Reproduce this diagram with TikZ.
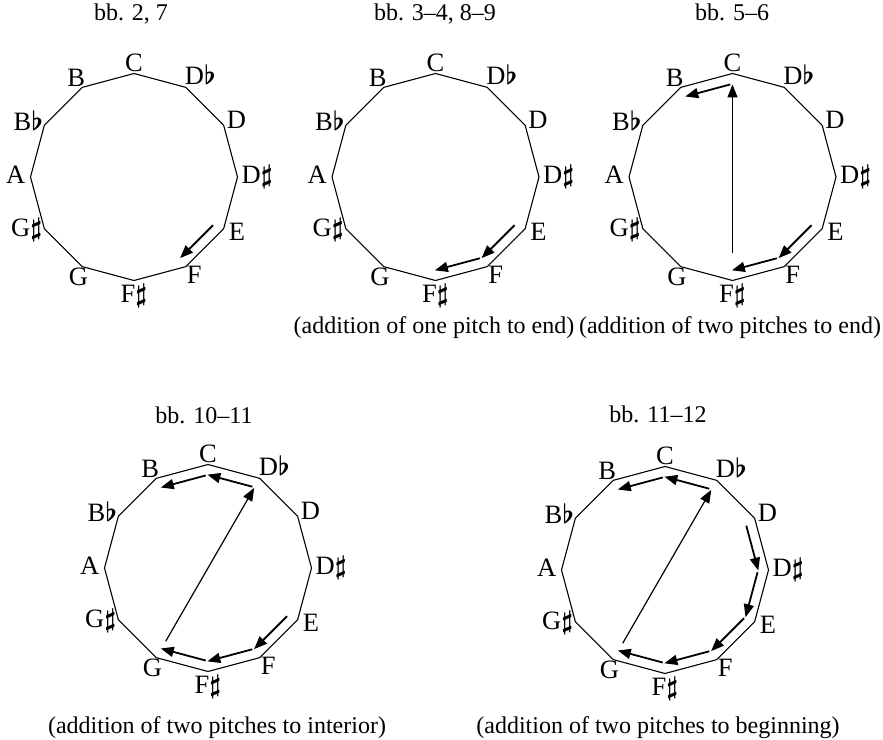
\RequirePackage{fix-cm}
\documentclass[tikz,border=0pt]{standalone}
\usepackage{fontspec}
\setmainfont{Liberation Serif}
\usetikzlibrary{arrows.meta,calc}
\tikzset{
  ring/.style={line width=1.1pt},
  pitch/.style={inner sep=0pt,font=\fontsize{26.5}{31}\selectfont},
  bartext/.style={anchor=base,inner sep=0pt,font=\fontsize{24}{28}\selectfont},
  steparrow/.style={line width=1.8pt,-{Triangle[length=13pt,width=10pt]}},
  chordarrow/.style={line width=1.2pt,-{Triangle[length=13pt,width=10pt]}}
}
\newcommand{\fl}{{\boldmath$\flat$}}
\newcommand{\sh}{{\boldmath$\sharp$}}
% dodecagon of pitches: name, centre
\newcommand{\pitchring}[2]{%
  \coordinate (#1) at (#2);
  \foreach \k in {0,...,11}
    \coordinate (#1-\k) at ($(#2)+(90-30*\k:103.5pt)$);
  \draw[ring] (#1-0) \foreach \k in {1,...,11} {-- (#1-\k)} -- cycle;
  \foreach \k/\lab/\anc/\dx/\dy in {0/C/south/0/2, 1/D\fl/south west/-1/3,
      2/D/west/3/5, 3/D\sh/west/4/0, 4/E/west/5/-3, 5/F/north west/1/1,
      6/F\sh/north/0/-3, 7/G/north east/6/-1, 8/G\sh/east/-2/-1,
      9/A/east/-5/2, 10/B\fl/east/-1/5, 11/B/south east/3/1}
    \node[pitch,anchor=\anc] (#1-l\k) at ($(#1-\k)+(\dx,\dy)$) {\lab};
}
% step along one edge: ring, from, to, side (-90 clockwise, 90 anticlockwise)
\newcommand{\steparr}[4]{%
  \draw[steparrow] ($(#1-#2)!5pt!(#1-#3)!10pt!#4:(#1-#3)$)
    -- ($(#1-#3)!2pt!(#1-#2)!-10pt!#4:(#1-#2)$);
}
% leap across the ring: ring, from, to, gap at start
\newcommand{\chordarr}[4]{%
  \draw[chordarrow] ($(#1-#2)!#4!(#1-#3)$) -- ($(#1-#3)!11pt!(#1-#2)$);
}

\begin{document}
\begin{tikzpicture}[x=1pt,y=1pt]
  \useasboundingbox (0,0) rectangle (883,739);
  % bb. 2, 7
  \node[bartext] (t1) at (131,718) {bb. 2, 7};
  \pitchring{r1}{134,562}
  \steparr{r1}{4}{5}{-90}
  % bb. 3-4, 8-9
  \node[bartext] (t2) at (435,718) {bb. 3--4, 8--9};
  \pitchring{r2}{435.5,562}
  \steparr{r2}{4}{5}{-90}
  \steparr{r2}{5}{6}{-90}
  \node[bartext] (c2) at (434,405) {(addition of one pitch to end)};
  % bb. 5-6
  \node[bartext] (t3) at (732,718) {bb. 5--6};
  \pitchring{r3}{732.5,562}
  \steparr{r3}{4}{5}{-90}
  \steparr{r3}{5}{6}{-90}
  \chordarr{r3}{6}{0}{27pt}
  \steparr{r3}{0}{11}{90}
  \node[bartext] (c3) at (730,405) {(addition of two pitches to end)};
  % bb. 10-11
  \node[bartext] (t4) at (204,315) {bb. 10--11};
  \pitchring{r4}{208,171}
  \steparr{r4}{4}{5}{-90}
  \steparr{r4}{5}{6}{-90}
  \steparr{r4}{6}{7}{-90}
  \chordarr{r4}{7}{1}{19pt}
  \steparr{r4}{1}{0}{90}
  \steparr{r4}{0}{11}{90}
  \node[bartext] (c4) at (217,6) {(addition of two pitches to interior)};
  % bb. 11-12
  \node[bartext] (t5) at (658,316) {bb. 11--12};
  \pitchring{r5}{665,169}
  \foreach \a/\b in {2/3,3/4,4/5,5/6,6/7}
    {\steparr{r5}{\a}{\b}{-90}}
  \chordarr{r5}{7}{1}{19pt}
  \steparr{r5}{1}{0}{90}
  \steparr{r5}{0}{11}{90}
  \node[bartext] (c5) at (658,6) {(addition of two pitches to beginning)};
\end{tikzpicture}
\end{document}
